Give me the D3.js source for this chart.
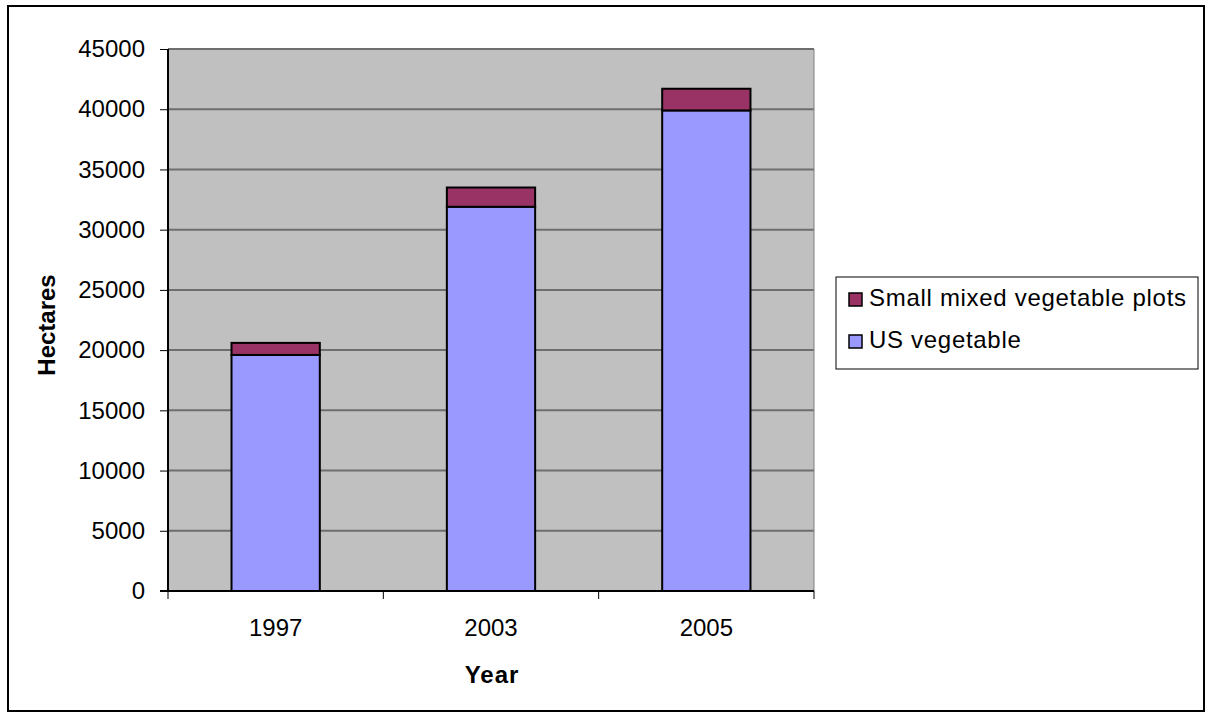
<!DOCTYPE html>
<html><head><meta charset="utf-8">
<script src="https://cdn.jsdelivr.net/npm/d3@7"></script>
<style>body{margin:0;background:#fff}svg{display:block}</style>
</head><body>
<svg id="c" width="1212" height="717"></svg>
<script>
const categories = ["1997", "2003", "2005"];
const usVegetable = [19600, 31900, 39900];
const smallMixed = [1000, 1600, 1800];
const seriesNames = ["Small mixed vegetable plots", "US vegetable"];
const yTicks = [0, 5000, 10000, 15000, 20000, 25000, 30000, 35000, 40000, 45000];

const svg = d3.select("#c");
const font = "'Liberation Sans', Arial, sans-serif";
svg.append("rect").attr("x", 8).attr("y", 6).attr("width", 1196).attr("height", 705)
  .attr("fill", "#fff").attr("stroke", "#000").attr("stroke-width", 2);

const L = 168, R = 814, T = 49, B = 591;
const x = d3.scaleBand().domain(categories).range([L, R]).paddingInner(0.59).paddingOuter(0.295);
const y = d3.scaleLinear().domain([0, 45000]).range([B, T]);

svg.append("rect").attr("x", L).attr("y", T).attr("width", R - L).attr("height", B - T)
  .attr("fill", "#c0c0c0");
svg.append("g").selectAll("line").data(yTicks.slice(1)).join("line")
  .attr("x1", L).attr("x2", R).attr("y1", d => y(d)).attr("y2", d => y(d))
  .attr("stroke", "#6e6e6e").attr("stroke-width", 2);
svg.append("line").attr("x1", R).attr("x2", R).attr("y1", T).attr("y2", B)
  .attr("stroke", "#808080").attr("stroke-width", 1);

const stack = categories.map((c, i) => ({c, us: usVegetable[i], sm: smallMixed[i]}));
const g = svg.append("g");
g.selectAll(".us").data(stack).join("rect")
  .attr("x", d => x(d.c)).attr("width", x.bandwidth())
  .attr("y", d => y(d.us)).attr("height", d => y(0) - y(d.us))
  .attr("fill", "#9999ff").attr("stroke", "#000").attr("stroke-width", 2);
g.selectAll(".sm").data(stack).join("rect")
  .attr("x", d => x(d.c)).attr("width", x.bandwidth())
  .attr("y", d => y(d.us + d.sm)).attr("height", d => y(d.us) - y(d.us + d.sm))
  .attr("fill", "#993366").attr("stroke", "#000").attr("stroke-width", 2);

// y axis
const ya = svg.append("g").attr("transform", `translate(${L},0)`)
  .call(d3.axisLeft(y).tickValues(yTicks).tickFormat(d3.format("d")).tickSize(8).tickPadding(15));
ya.select(".domain").attr("stroke", "#000").attr("stroke-width", 2).attr("d", `M0,${T}V${B}`);
ya.selectAll(".tick line").attr("stroke", "#000").attr("stroke-width", 1);
ya.selectAll("text").attr("font-family", font).attr("font-size", 24).attr("fill", "#000");

// x axis
svg.append("line").attr("x1", L - 8).attr("x2", R).attr("y1", B).attr("y2", B)
  .attr("stroke", "#000").attr("stroke-width", 2);
const edges = [L].concat(categories.map((c, i) => L + (R - L) * (i + 1) / categories.length));
svg.append("g").selectAll("line").data(edges).join("line")
  .attr("x1", d => d).attr("x2", d => d).attr("y1", B).attr("y2", B + 8)
  .attr("stroke", "#000").attr("stroke-width", 1);
svg.append("g").selectAll("text").data(categories).join("text")
  .attr("x", d => x(d) + x.bandwidth() / 2).attr("y", 636)
  .attr("text-anchor", "middle").attr("font-family", font).attr("font-size", 24).text(d => d);

svg.append("text").attr("x", 492).attr("y", 683).attr("text-anchor", "middle")
  .attr("font-family", font).attr("font-size", 24).attr("font-weight", "bold")
  .attr("letter-spacing", 1).text("Year");
svg.append("text").attr("transform", "translate(55,325) rotate(-90)").attr("text-anchor", "middle")
  .attr("font-family", font).attr("font-size", 24).attr("font-weight", "bold").text("Hectares");

// legend
const lg = svg.append("g");
lg.append("rect").attr("x", 836).attr("y", 277).attr("width", 362).attr("height", 92)
  .attr("fill", "#fff").attr("stroke", "#000").attr("stroke-width", 1);
const lcol = ["#993366", "#9999ff"];
seriesNames.forEach((n, i) => {
  const yy = 306 + i * 42;
  lg.append("rect").attr("x", 849).attr("y", yy - 13).attr("width", 13).attr("height", 13)
    .attr("fill", lcol[i]).attr("stroke", "#000").attr("stroke-width", 1.5);
  lg.append("text").attr("x", 869).attr("y", yy).attr("font-family", font).attr("font-size", 24)
    .attr("letter-spacing", 0.7).text(n);
});
</script>
</body></html>
